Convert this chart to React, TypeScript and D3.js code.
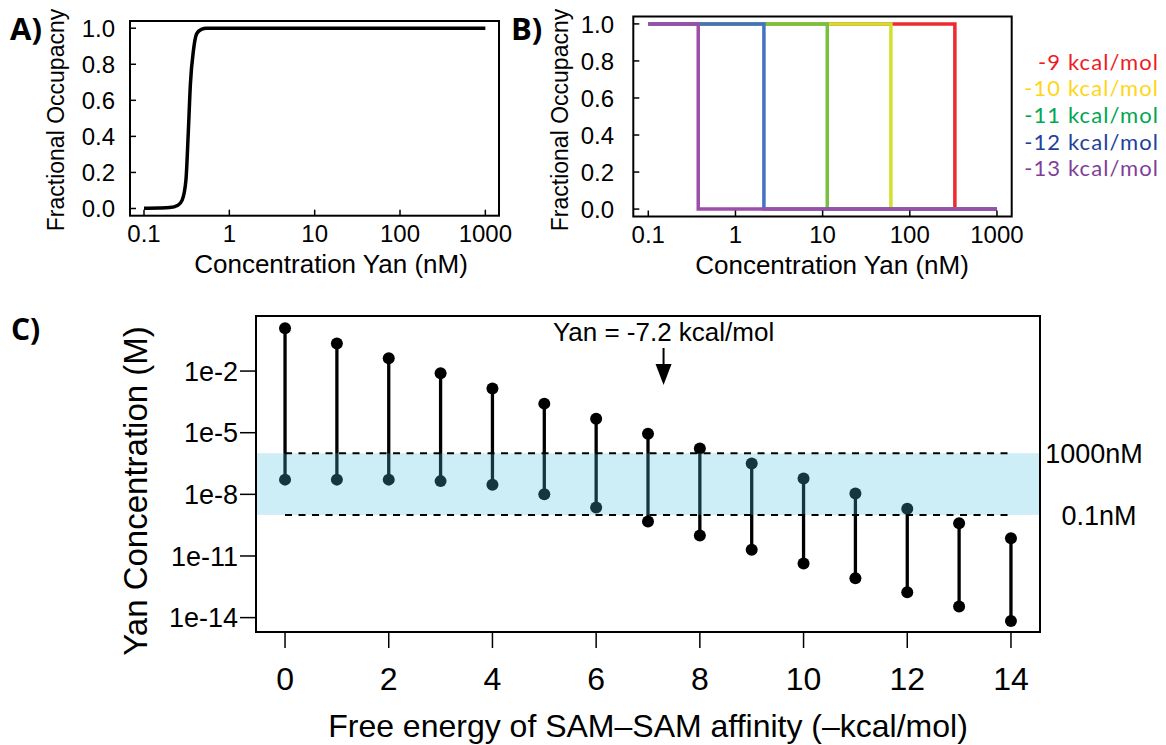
import React from "react";
import * as d3 from "d3";

// ---------- Panel A data ----------
const aConc = [0.1, 0.15, 0.2, 0.25, 0.28, 0.31, 0.33, 0.35, 0.38, 0.415, 0.47, 0.54, 1, 10, 100, 1000];
const aOcc = [0.002, 0.003, 0.005, 0.018, 0.046, 0.157, 0.416, 0.693, 0.878, 0.97, 0.994, 1.0, 1.0, 1.0, 1.0, 1.0];

// ---------- Panel B data ----------
const bLabels = ["-9 kcal/mol", "-10 kcal/mol", "-11 kcal/mol", "-12 kcal/mol", "-13 kcal/mol"];
const bDrop = [329, 60.7, 11.3, 2.12, 0.374];
const bLineColors = ["#ee2a2e", "#d3df2e", "#77c043", "#4472c4", "#9a50a8"];
const bTextColors = ["#ed1c24", "#ffd617", "#00a651", "#22409a", "#7f3f98"];
const bStart = 0.1;
const bEnd = 1000;

const occTicks = [0, 0.2, 0.4, 0.6, 0.8, 1.0];
const occTickLabels = ["0.0", "0.2", "0.4", "0.6", "0.8", "1.0"];
const concTicks = [0.1, 1, 10, 100, 1000];
const concTickLabels = ["0.1", "1", "10", "100", "1000"];

// ---------- Panel C data ----------
const cEnergy = [0, 1, 2, 3, 4, 5, 6, 7, 8, 9, 10, 11, 12, 13, 14];
const cUpper = [1.2, 2.2e-1, 4.2e-2, 7.8e-3, 1.4e-3, 2.6e-4, 4.8e-5, 8.9e-6, 1.7e-6, 3.2e-7, 5.9e-8, 1.1e-8, 2.0e-9, 3.9e-10, 7.2e-11];
const cLower = [5.2e-8, 5.2e-8, 5.2e-8, 4.4e-8, 2.9e-8, 1.0e-8, 2.3e-9, 4.8e-10, 9.9e-11, 2.0e-11, 4.3e-12, 8.2e-13, 1.7e-13, 3.5e-14, 6.9e-15];
const cYTicks = [1e-2, 1e-5, 1e-8, 1e-11, 1e-14];
const cYTickLabels = ["1e-2", "1e-5", "1e-8", "1e-11", "1e-14"];
const cXTicks = [0, 2, 4, 6, 8, 10, 12, 14];
const bandHigh = 1e-6;
const bandLow = 1e-9;
const bandLabels = ["1000nM", "0.1nM"];
const yanEnergy = 7.3;
const yanLabel = "Yan = -7.2 kcal/mol";

const SANS = "'Liberation Sans', Arial, Helvetica, sans-serif";
const MYRIAD = "'Open Sans', 'Noto Sans', sans-serif";
const LEGEND_FONT = "Lato, 'Open Sans', sans-serif";

export default function App() {
  // Panel A scales
  const axA = d3.scaleLog().domain([Math.pow(10, -1.164), Math.pow(10, 3.16)]).range([130, 499]);
  const ayA = d3.scaleLinear().domain([-0.04, 1.04]).range([215.7, 21]);
  // Panel B scales
  const axB = d3.scaleLog().domain([Math.pow(10, -1.172), Math.pow(10, 3.169)]).range([633.3, 1011.7]);
  const ayB = d3.scaleLinear().domain([-0.04, 1.04]).range([216.5, 16.5]);
  // Panel C scales
  const axC = d3.scaleLinear().domain([-0.56, 14.56]).range([256, 1040]);
  const ayC = d3.scaleLog().domain([Math.pow(10, -14.7), Math.pow(10, 0.68)]).range([632, 316]);

  const lineA = d3
    .line<number>()
    .x((_, i) => axA(aConc[i]))
    .y((d) => ayA(d))
    .curve(d3.curveMonotoneX);

  const lineB = d3
    .line<[number, number]>()
    .x((d) => axB(d[0]))
    .y((d) => ayB(d[1]));

  const bSeries = bDrop.map((drop) => [
    [bStart, 1],
    [drop, 1],
    [drop, 0],
    [bEnd, 0],
  ] as [number, number][]);

  const tickLen = 6;

  return (
    <svg
      width={1166}
      height={745}
      style={{ position: "absolute", left: 0, top: 0, background: "#fff" }}
      fontFamily={SANS}
    >
      {/* ================= Panel A ================= */}
      <g>
        <text x={10} y={40} fontFamily={MYRIAD} fontWeight={700} fontSize={31}>A)</text>
        <path d={lineA(aOcc) || ""} fill="none" stroke="#000" strokeWidth={3.5} strokeLinejoin="round" />
        <rect x={130} y={21} width={369} height={194.7} fill="none" stroke="#000" strokeWidth={2} />
        {occTicks.map((t, i) => (
          <g key={"ay" + i}>
            <line x1={130} x2={130 + tickLen} y1={ayA(t)} y2={ayA(t)} stroke="#000" strokeWidth={1.5} />
            <text x={115} y={ayA(t)} dy="0.36em" textAnchor="end" fontSize={24}>{occTickLabels[i]}</text>
          </g>
        ))}
        {concTicks.map((t, i) => (
          <g key={"ax" + i}>
            <line x1={axA(t)} x2={axA(t)} y1={215.7} y2={215.7 - tickLen} stroke="#000" strokeWidth={1.5} />
            <text x={axA(t)} y={242} textAnchor="middle" fontSize={24}>{concTickLabels[i]}</text>
          </g>
        ))}
        <text x={331} y={273} textAnchor="middle" fontSize={26}>Concentration Yan (nM)</text>
        <text transform="translate(64,120) rotate(-90)" textAnchor="middle" fontSize={23}>Fractional Occupacny</text>
      </g>

      {/* ================= Panel B ================= */}
      <g>
        <text x={511} y={40} fontFamily={MYRIAD} fontWeight={700} fontSize={31}>B)</text>
        {bSeries.map((s, i) => (
          <path key={"bl" + i} d={lineB(s) || ""} fill="none" stroke={bLineColors[i]} strokeWidth={3.5} />
        ))}
        <rect x={633.3} y={16.5} width={378.4} height={200} fill="none" stroke="#000" strokeWidth={2} />
        {occTicks.map((t, i) => (
          <g key={"by" + i}>
            <line x1={633.3} x2={633.3 + tickLen} y1={ayB(t)} y2={ayB(t)} stroke="#000" strokeWidth={1.5} />
            <text x={614} y={ayB(t)} dy="0.36em" textAnchor="end" fontSize={24}>{occTickLabels[i]}</text>
          </g>
        ))}
        {concTicks.map((t, i) => (
          <g key={"bx" + i}>
            <line x1={axB(t)} x2={axB(t)} y1={216.5} y2={216.5 - tickLen} stroke="#000" strokeWidth={1.5} />
            <text x={axB(t)} y={243} textAnchor="middle" fontSize={24}>{concTickLabels[i]}</text>
          </g>
        ))}
        <text x={832} y={274} textAnchor="middle" fontSize={26}>Concentration Yan (nM)</text>
        <text transform="translate(568,120) rotate(-90)" textAnchor="middle" fontSize={23}>Fractional Occupacny</text>
        {bLabels.map((l, i) => (
          <text
            key={"lg" + i}
            x={1159}
            y={69.5 + i * 26.7}
            textAnchor="end"
            fontFamily={LEGEND_FONT}
            fontSize={22}
            letterSpacing={1.1}
            fill={bTextColors[i]}
          >
            {l}
          </text>
        ))}
      </g>

      {/* ================= Panel C ================= */}
      <g>
        <text x={11} y={340} fontFamily={MYRIAD} fontWeight={700} fontSize={30}>C)</text>
        {cEnergy.map((e, i) => (
          <g key={"c" + i}>
            <line x1={axC(e)} x2={axC(e)} y1={ayC(cUpper[i])} y2={ayC(cLower[i])} stroke="#000" strokeWidth={3.3} />
            <circle cx={axC(e)} cy={ayC(cUpper[i])} r={6} fill="#000" />
            <circle cx={axC(e)} cy={ayC(cLower[i])} r={6} fill="#000" />
          </g>
        ))}
        <rect
          x={256}
          y={ayC(bandHigh)}
          width={784}
          height={ayC(bandLow) - ayC(bandHigh)}
          fill="rgb(75,190,225)"
          fillOpacity={0.28}
        />
        <line x1={axC(0)} x2={axC(14)} y1={ayC(bandHigh)} y2={ayC(bandHigh)} stroke="#000" strokeWidth={2} strokeDasharray="7,6.5" />
        <line x1={axC(0)} x2={axC(14)} y1={ayC(bandLow)} y2={ayC(bandLow)} stroke="#000" strokeWidth={2} strokeDasharray="7,6.5" />
        <rect x={256} y={316} width={784} height={316} fill="none" stroke="#000" strokeWidth={2} />
        {cYTicks.map((t, i) => (
          <g key={"cy" + i}>
            <line x1={240} x2={256} y1={ayC(t)} y2={ayC(t)} stroke="#000" strokeWidth={1.5} />
            <text x={238} y={ayC(t)} dy="0.36em" textAnchor="end" fontSize={27}>{cYTickLabels[i]}</text>
          </g>
        ))}
        {cXTicks.map((t) => (
          <g key={"cx" + t}>
            <line x1={axC(t)} x2={axC(t)} y1={633} y2={648} stroke="#000" strokeWidth={1.5} />
            <text x={axC(t)} y={690} textAnchor="middle" fontSize={32}>{t}</text>
          </g>
        ))}
        <text x={1094} y={ayC(bandHigh)} dy="0.36em" textAnchor="middle" fontSize={27}>{bandLabels[0]}</text>
        <text x={1099} y={ayC(bandLow)} dy="0.36em" textAnchor="middle" fontSize={27}>{bandLabels[1]}</text>
        <text x={axC(yanEnergy)} y={341} textAnchor="middle" fontSize={26}>{yanLabel}</text>
        <line x1={axC(yanEnergy)} x2={axC(yanEnergy)} y1={348} y2={370} stroke="#000" strokeWidth={2} />
        <path
          d={`M${axC(yanEnergy) - 8},${364} L${axC(yanEnergy) + 8},${364} L${axC(yanEnergy)},${385} Z`}
          fill="#000"
        />
        <text x={648} y={737} textAnchor="middle" fontSize={32}>Free energy of SAM–SAM affinity (–kcal/mol)</text>
        <text transform="translate(147,491) rotate(-90)" textAnchor="middle" fontSize={33}>Yan Concentration (M)</text>
      </g>
    </svg>
  );
}
